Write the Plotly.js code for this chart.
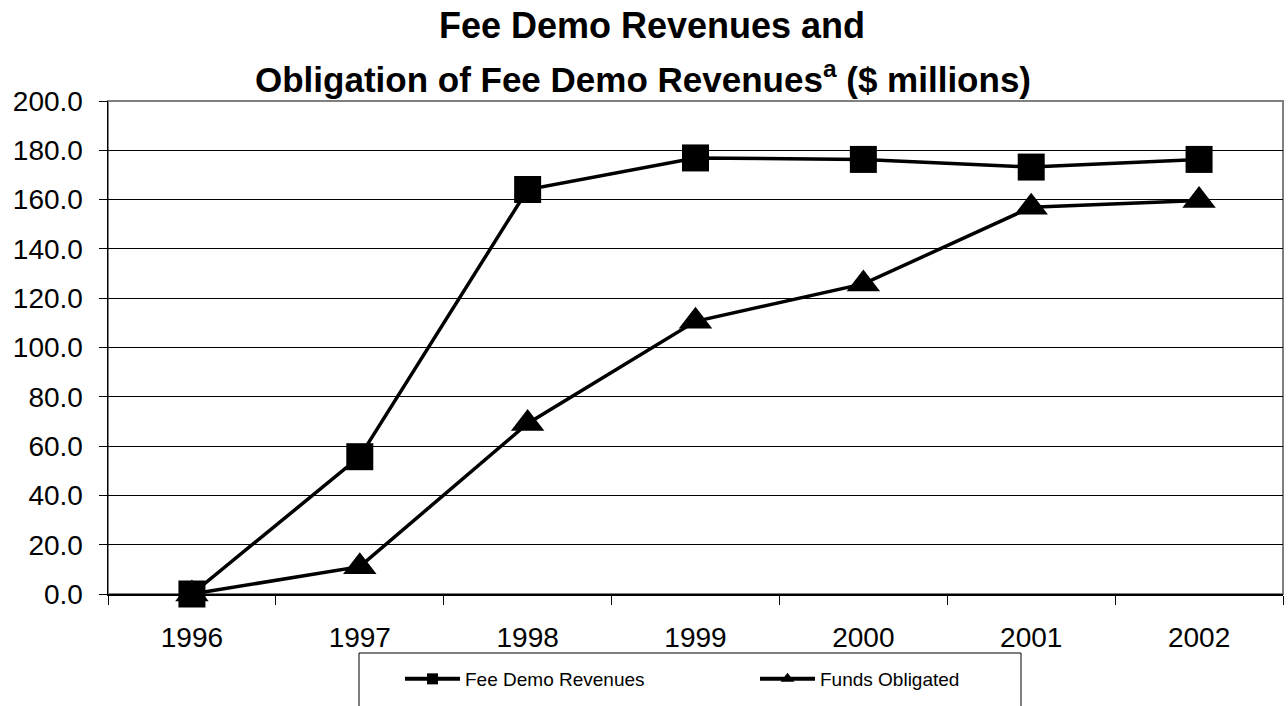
<!DOCTYPE html>
<html>
<head>
<meta charset="utf-8">
<script src="https://cdn.plot.ly/plotly-3.0.1.min.js"></script>
<style>html,body{margin:0;padding:0;background:#fff;}#chart{width:1288px;height:706px;}</style>
</head>
<body>
<div id="chart"></div>
<script>
const years = ["1996", "1997", "1998", "1999", "2000", "2001", "2002"];
const feeDemoRevenues = [0, 55.7, 164.1, 176.9, 176.3, 173.2, 176.3];
const fundsObligated = [0, 11.1, 69.2, 110.6, 125.8, 156.9, 159.6];
const seriesNames = ["Fee Demo Revenues", "Funds Obligated"];
const titleLine1 = "Fee Demo Revenues and";
const titleLine2 = "Obligation of Fee Demo Revenues<sup>a</sup> ($ millions)";

const FONT = "Liberation Sans, Arial, sans-serif";

const traces = [
  {
    x: years, y: feeDemoRevenues, type: "scatter", mode: "lines+markers",
    name: seriesNames[0], showlegend: false, cliponaxis: false,
    line: {color: "#000", width: 3.5},
    marker: {symbol: "square", size: 27, color: "#000"}
  },
  {
    x: years, y: fundsObligated, type: "scatter", mode: "lines+markers",
    name: seriesNames[1], showlegend: false, cliponaxis: false,
    line: {color: "#000", width: 3.5},
    marker: {symbol: "triangle-up", size: 29, color: "#000"}
  },
  {
    x: [null], y: [null], type: "scatter", mode: "lines+markers",
    name: seriesNames[0], showlegend: true,
    line: {color: "#000", width: 4},
    marker: {symbol: "square", size: 11, color: "#000"}
  },
  {
    x: [null], y: [null], type: "scatter", mode: "lines+markers",
    name: seriesNames[1], showlegend: true,
    line: {color: "#000", width: 4},
    marker: {symbol: "triangle-up", size: 12, color: "#000"}
  }
];

const layout = {
  width: 1288, height: 706,
  margin: {l: 108, r: 5, t: 101, b: 112},
  paper_bgcolor: "#fff", plot_bgcolor: "#fff",
  font: {family: FONT, color: "#000"},
  title: {
    text: "<b>" + titleLine1 + "</b>",
    font: {family: FONT, size: 36, color: "#000"},
    x: 652 / 1288, xref: "container", xanchor: "center",
    y: 1 - 25 / 706, yref: "container", yanchor: "middle"
  },
  annotations: [{
    text: "<b>" + titleLine2 + "</b>",
    font: {family: FONT, size: 35, color: "#000"},
    xref: "paper", yref: "paper",
    x: (643 - 108) / 1175, y: (594 - 77) / 493,
    xanchor: "center", yanchor: "middle", showarrow: false
  }],
  xaxis: {
    type: "category", range: [-0.5, 6.5],
    tickson: "boundaries", ticks: "outside", ticklen: 9, tickcolor: "#000", tickwidth: 1,
    showline: true, linecolor: "#000", linewidth: 1.5,
    showgrid: false, zeroline: false,
    tickfont: {family: FONT, size: 28, color: "#000"},
    ticklabelstandoff: 18, fixedrange: true
  },
  yaxis: {
    range: [0, 200], dtick: 20, tick0: 0, tickformat: ".1f",
    ticks: "outside", ticklen: 8, tickcolor: "#000", tickwidth: 1,
    showline: true, linecolor: "#000", linewidth: 1.5,
    showgrid: true, gridcolor: "#000", gridwidth: 1,
    zeroline: false,
    tickfont: {family: FONT, size: 28, color: "#000"},
    ticklabelstandoff: 10, fixedrange: true
  },
  shapes: [
    {type: "rect", xref: "paper", yref: "paper", x0: 0, x1: 1, y0: 0, y1: 1,
     line: {color: "#808080", width: 2}, fillcolor: "rgba(0,0,0,0)", layer: "below"},
    {type: "rect", xref: "paper", yref: "paper",
     x0: (359 - 108) / 1175, x1: (1021 - 108) / 1175,
     y0: (594 - 653) / 493, y1: -0.4,
     line: {color: "#000", width: 1}, fillcolor: "rgba(0,0,0,0)"}
  ],
  showlegend: true,
  legend: {
    orientation: "h", x: (400 - 108) / 1175, xanchor: "left",
    y: (594 - 660) / 493, yanchor: "top",
    bgcolor: "rgba(0,0,0,0)", borderwidth: 0,
    font: {family: FONT, size: 19, color: "#000"},
    itemwidth: 55, entrywidth: 285, itemclick: false, itemdoubleclick: false
  }
};

Plotly.newPlot("chart", traces, layout, {displayModeBar: false, staticPlot: true});
</script>
</body>
</html>
